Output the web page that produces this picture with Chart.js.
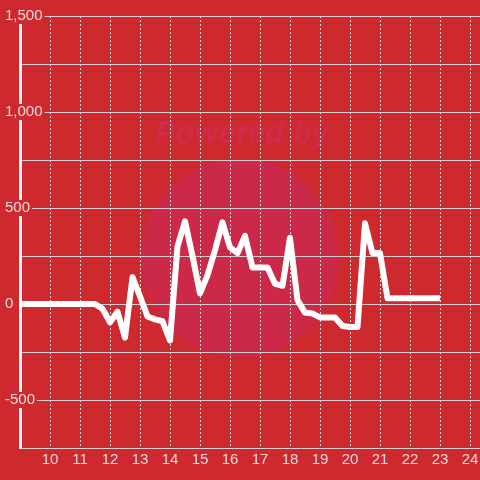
<!DOCTYPE html>
<html>
<head>
<meta charset="utf-8">
<script src="https://cdn.jsdelivr.net/npm/chart.js@4/dist/chart.umd.min.js"></script>
<style>
  html, body { margin: 0; padding: 0; background: #cd292e; }
  canvas { display: block; }
</style>
</head>
<body>
<canvas id="chart" width="480" height="480"></canvas>
<script>
// data, one point every quarter hour
var hours = [9, 9.25, 9.5, 9.75, 10, 10.25, 10.5, 10.75, 11, 11.25, 11.5, 11.75,
             12, 12.25, 12.5, 12.75, 13, 13.25, 13.5, 13.75, 14, 14.25, 14.5, 14.75,
             15, 15.25, 15.5, 15.75, 16, 16.25, 16.5, 16.75, 17, 17.25, 17.5, 17.75,
             18, 18.25, 18.5, 18.75, 19, 19.25, 19.5, 19.75, 20, 20.25, 20.5, 20.75,
             21, 21.25, 21.5, 21.75, 22, 22.25, 22.5, 22.75, 23];
var values = [0, 0, 0, 0, 0, 0, 0, 0, 0, 0, 0, -25,
              -95, -40, -175, 140, 40, -65, -80, -90, -190, 300, 430, 250,
              55, 150, 280, 425, 295, 265, 355, 190, 190, 190, 105, 95,
              345, 20, -45, -50, -70, -70, -70, -115, -120, -120, 420, 265,
              265, 30, 30, 30, 30, 30, 30, 30, 30];
var xTicks = [10, 11, 12, 13, 14, 15, 16, 17, 18, 19, 20, 21, 22, 23, 24];
var yGrid = [-750, -500, -250, 0, 250, 500, 750, 1000, 1250, 1500];
var yLabels = {'-500': '-500', '0': '0', '500': '500', '1000': '1,000', '1500': '1,500'};

var bg = '#cd292e';
var txt = '#f3dada';

Chart.defaults.font.family = '"Liberation Sans", Arial, sans-serif';
Chart.defaults.font.size = 15;

// faint watermark behind the plot
var watermark = {
  id: 'watermark',
  beforeDraw: function(chart) {
    var ctx = chart.ctx;
    ctx.save();
    ctx.fillStyle = bg;
    ctx.fillRect(0, 0, chart.width, chart.height);
    ctx.fillStyle = '#cc2847';
    ctx.beginPath();
    ctx.arc(240, 258, 99, 0, Math.PI * 2);
    ctx.fill();
    ctx.font = 'italic bold 31px "Liberation Sans", Arial, sans-serif';
    ctx.fillStyle = '#d02b48';
    ctx.textAlign = 'center';
    ctx.fillText('Powered by', 242, 143);
    ctx.restore();
  }
};

new Chart(document.getElementById('chart'), {
  type: 'line',
  data: {
    datasets: [{
      data: hours.map(function(h, i) { return {x: h, y: values[i]}; }),
      borderColor: '#ffffff',
      borderWidth: 6,
      borderJoinStyle: 'round',
      pointRadius: 0,
      tension: 0,
      fill: false
    }]
  },
  options: {
    responsive: false,
    animation: false,
    layout: { padding: { left: 5, top: 16, right: 0, bottom: 0 } },
    plugins: { legend: { display: false }, tooltip: { enabled: false } },
    scales: {
      x: {
        type: 'linear',
        min: 9,
        max: 24.3333,
        afterBuildTicks: function(s) { s.ticks = xTicks.map(function(v) { return {value: v}; }); },
        afterFit: function(s) { s.height = 32; s.paddingLeft = 0; s.paddingRight = 0; },
        grid: { color: '#e4e4e4', lineWidth: 1, drawTicks: false },
        border: { display: false, dash: [2, 2] },
        ticks: { color: txt, padding: 3, maxRotation: 0 }
      },
      y: {
        min: -750,
        max: 1500,
        afterBuildTicks: function(s) { s.ticks = yGrid.map(function(v) { return {value: v}; }); },
        afterFit: function(s) { s.width = 15; },
        grid: { color: '#cfcfcf', lineWidth: 1, drawTicks: false },
        border: { display: true, color: '#f2f2f2', width: 3 },
        ticks: {
          color: txt,
          mirror: true,
          crossAlign: 'near',
          padding: -15,
          showLabelBackdrop: true,
          backdropPadding: { x: 2, y: -1 },
          backdropColor: function(c) { return yLabels[String(c.tick.value)] ? bg : 'rgba(0,0,0,0)'; },
          callback: function(v) { return yLabels[String(v)] || ''; }
        }
      }
    }
  },
  plugins: [watermark]
});
</script>
</body>
</html>
